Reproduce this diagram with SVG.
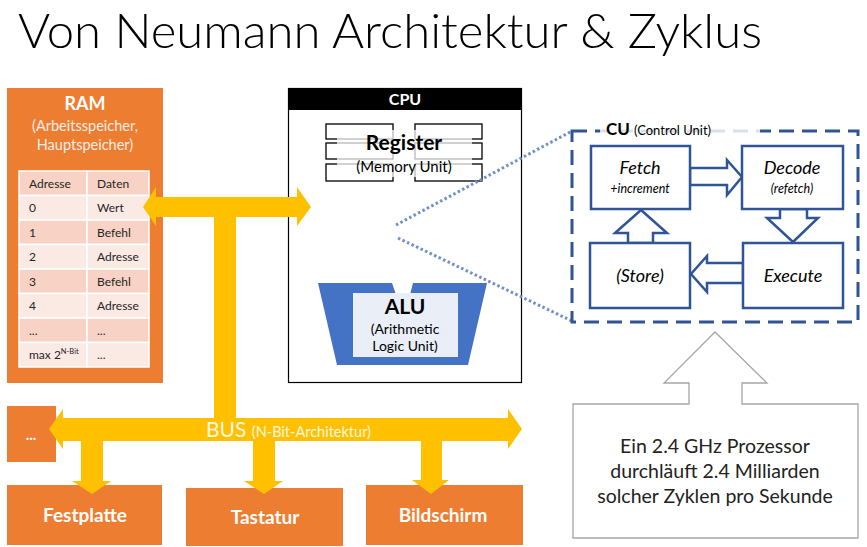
<svg xmlns="http://www.w3.org/2000/svg" width="867" height="547" viewBox="0 0 867 547">
<style>
text{font-family:"Lato","Liberation Sans",sans-serif;}
.org{fill:#ED7D31;}
.wb{fill:#fff;font-weight:bold;text-anchor:middle;}
.cell{font-size:12px;fill:#262626;}
.rd{fill:#F8D3C5;stroke:#fff;stroke-width:1.5;}
.rl{fill:#FBE9E4;stroke:#fff;stroke-width:1.5;}
.reg{fill:#fff;stroke:#000;stroke-width:1.3;}
.cu{fill:#fff;stroke:#2F5597;stroke-width:2.5;}
.it{font-style:italic;fill:#000;text-anchor:middle;}
.bus{fill:#FFC000;}
.dot{stroke:#7090C8;stroke-width:3;stroke-dasharray:2.5 2.5;fill:none;}
.mid{text-anchor:middle;}
</style>
<rect width="867" height="547" fill="#fff"/>
<text x="18" y="48" font-size="47" font-weight="300" textLength="744" lengthAdjust="spacingAndGlyphs" fill="#000">Von Neumann Architektur &amp; Zyklus</text>

<g id="ram">
<rect class="org" x="7" y="88" width="156" height="295"/>
<text class="wb" x="85" y="110" font-size="18">RAM</text>
<text x="85" y="131" font-size="14.5" fill="#FDEEE6" class="mid">(Arbeitsspeicher,</text>
<text x="85" y="150" font-size="14.5" fill="#FDEEE6" class="mid">Hauptspeicher)</text>
<g>
<rect class="rd" x="19" y="171" width="68" height="24.5"/><rect class="rd" x="87" y="171" width="62" height="24.5"/>
<rect class="rl" x="19" y="195.5" width="68" height="24.5"/><rect class="rl" x="87" y="195.5" width="62" height="24.5"/>
<rect class="rd" x="19" y="220" width="68" height="24.5"/><rect class="rd" x="87" y="220" width="62" height="24.5"/>
<rect class="rl" x="19" y="244.5" width="68" height="24.5"/><rect class="rl" x="87" y="244.5" width="62" height="24.5"/>
<rect class="rd" x="19" y="269" width="68" height="24.5"/><rect class="rd" x="87" y="269" width="62" height="24.5"/>
<rect class="rl" x="19" y="293.5" width="68" height="24.5"/><rect class="rl" x="87" y="293.5" width="62" height="24.5"/>
<rect class="rd" x="19" y="318" width="68" height="24.5"/><rect class="rd" x="87" y="318" width="62" height="24.5"/>
<rect class="rl" x="19" y="342.5" width="68" height="24.5"/><rect class="rl" x="87" y="342.5" width="62" height="24.5"/>
</g>
<text class="cell" x="29" y="187.5">Adresse</text><text class="cell" x="97" y="187.5">Daten</text>
<text class="cell" x="29" y="212">0</text><text class="cell" x="97" y="212">Wert</text>
<text class="cell" x="29" y="236.5">1</text><text class="cell" x="97" y="236.5">Befehl</text>
<text class="cell" x="29" y="261">2</text><text class="cell" x="97" y="261">Adresse</text>
<text class="cell" x="29" y="285.5">3</text><text class="cell" x="97" y="285.5">Befehl</text>
<text class="cell" x="29" y="310">4</text><text class="cell" x="97" y="310">Adresse</text>
<text class="cell" x="29" y="334.5">...</text><text class="cell" x="97" y="334.5">...</text>
<text class="cell" x="29" y="359">max 2<tspan font-size="7.5" dy="-5">N-Bit</tspan></text><text class="cell" x="97" y="359">...</text>
</g>

<g id="cpu">
<rect x="288.5" y="88.5" width="233" height="294" fill="#fff" stroke="#000" stroke-width="1.2"/>
<rect x="288" y="88" width="234" height="22" fill="#000"/>
<text class="wb" x="405" y="105" font-size="16">CPU</text>
</g>

<g id="register">
<rect class="reg" x="326" y="124" width="67" height="15"/>
<rect class="reg" x="326" y="143" width="67" height="16"/>
<rect class="reg" x="326" y="164" width="67" height="17"/>
<rect class="reg" x="415" y="124" width="67" height="15"/>
<rect class="reg" x="415" y="143" width="67" height="16"/>
<rect class="reg" x="415" y="164" width="67" height="17"/>
<rect x="337" y="130" width="135" height="47" fill="#fff" fill-opacity="0.72"/>
<text x="404" y="150" font-size="21" font-weight="bold" class="mid" fill="#000">Register</text>
<text x="404" y="172" font-size="15" class="mid" fill="#000">(Memory Unit)</text>
</g>

<g id="alu">
<polygon points="318,283 392,283 404,318 413,283 487,283 468,365 337,365" fill="#4472C4"/>
<rect x="353" y="293" width="105" height="64" fill="#E9EEF7"/>
<text x="405" y="314" font-size="21" font-weight="bold" class="mid" fill="#000">ALU</text>
<text x="405" y="334" font-size="14" class="mid" fill="#000">(Arithmetic</text>
<text x="405" y="351" font-size="14" class="mid" fill="#000">Logic Unit)</text>
</g>

<g id="zoomlines">
<line class="dot" x1="396" y1="225" x2="572" y2="131"/>
<line class="dot" x1="398" y1="238" x2="572" y2="321"/>
</g>

<g id="cu">
<rect x="572" y="131" width="286" height="191" fill="#fff" stroke="#2F5597" stroke-width="3" stroke-dasharray="15 8"/>
<rect x="600" y="122" width="160" height="16" fill="#fff" fill-opacity="0.82"/>
<text x="606" y="135" font-size="17" font-weight="bold" fill="#000">CU <tspan font-size="13" font-weight="normal">(Control Unit)</tspan></text>
</g>

<g id="cycle-arrows">
<polygon class="cu" points="690,168 727,168 727,160 742,177 727,195 727,185 690,185"/>
<polygon class="cu" points="780,209 807,209 807,218 818,218 793,242 767,218 780,218"/>
<polygon class="cu" points="743,263 707,263 707,256 691,274 707,292 707,283 743,283"/>
<polygon class="cu" points="628,243 628,233 615,233 641,210 667,233 653,233 653,243"/>
</g>
<g id="fetch">
<rect class="cu" x="591" y="146" width="99" height="63"/>
<text class="it" x="640" y="174" font-size="18">Fetch</text>
<text class="it" x="640" y="193" font-size="12.5">+increment</text>
</g>
<g id="decode">
<rect class="cu" x="742" y="146" width="101" height="63"/>
<text class="it" x="792" y="174" font-size="18">Decode</text>
<text class="it" x="792" y="193" font-size="12.5">(refetch)</text>
</g>
<g id="store">
<rect class="cu" x="590" y="243" width="100" height="65"/>
<text class="it" x="640" y="282" font-size="18">(Store)</text>
</g>
<g id="execute">
<rect class="cu" x="743" y="243" width="100" height="65"/>
<text class="it" x="793" y="282" font-size="18">Execute</text>
</g>

<g id="note">
<polygon points="573,404 689,404 689,383 664,383 715,332 767,383 742,383 742,404 858,404 858,538 573,538" fill="#fff" stroke="#A6A6A6" stroke-width="1.3"/>
<text x="715" y="453" font-size="19.5" class="mid" fill="#222">Ein 2.4 GHz Prozessor</text>
<text x="715" y="478" font-size="19.5" class="mid" fill="#222">durchläuft 2.4 Milliarden</text>
<text x="715" y="503" font-size="19.5" class="mid" fill="#222">solcher Zyklen pro Sekunde</text>
</g>

<g id="dots-box">
<rect class="org" x="7" y="406" width="49" height="56"/>
<text class="wb" x="31" y="440" font-size="15" font-weight="normal">...</text>
</g>
<g id="festplatte">
<rect class="org" x="7" y="485" width="155" height="60"/>
<text class="wb" x="85" y="522" font-size="19">Festplatte</text>
</g>
<g id="tastatur">
<rect class="org" x="186" y="488" width="157" height="58"/>
<text class="wb" x="265" y="524" font-size="19">Tastatur</text>
</g>
<g id="bildschirm">
<rect class="org" x="366" y="485" width="157" height="60"/>
<text class="wb" x="443" y="522" font-size="19">Bildschirm</text>
</g>

<g id="connectors">
<polygon class="bus" points="143,207 156,187 156,197 297,197 297,187 311,207 297,226 297,217 156,217 156,226"/>
<rect class="bus" x="214" y="215" width="22" height="205"/>
<polygon class="bus" points="49,429 63,409 63,418 508,418 508,409 522,429 508,449 508,441 63,441 63,449"/>
<polygon class="bus" points="81,439 103,439 103,481 111,481 92,494 72,481 81,481"/>
<polygon class="bus" points="253,439 275,439 275,481 283,481 264,494 244,481 253,481"/>
<polygon class="bus" points="421,439 442,439 442,480 449,480 431,494 412,480 421,480"/>
<text x="206" y="437" font-size="21" fill="#FFF8E1">BUS <tspan font-size="14.5">(N-Bit-Architektur)</tspan></text>
</g>
</svg>
